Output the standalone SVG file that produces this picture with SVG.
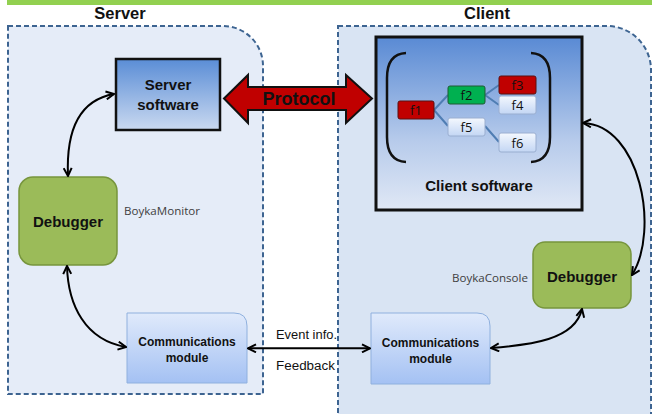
<svg xmlns="http://www.w3.org/2000/svg" width="652" height="414" viewBox="0 0 652 414">
<style>
.region{stroke:#3d6491;stroke-width:2;stroke-dasharray:5,3}
.head{font-family:"Liberation Sans",Arial,sans-serif;font-weight:bold;font-size:16.5px;fill:#111;text-anchor:middle}
.bold{font-family:"Liberation Sans",Arial,sans-serif;font-weight:bold;fill:#111;text-anchor:middle}
.note{font-family:"Open Sans","Liberation Sans",sans-serif;font-size:11.5px;fill:#404040}
.lbl{font-family:"Liberation Sans",Arial,sans-serif;font-size:12.5px;fill:#111}
.fbox{stroke-width:1}
.ftxt{font-family:"Open Sans","Liberation Sans",sans-serif;font-size:13px;fill:#111;text-anchor:middle}
.tree{stroke:#4f7db3;stroke-width:2;fill:none}
.conn{fill:none;stroke:#000;stroke-width:2;marker-start:url(#ah);marker-end:url(#ah)}
.debug{fill:#9bbb59;stroke:#77953d;stroke-width:1.5}
.comm{fill:url(#gComm);stroke:#8fb0de;stroke-width:1}
</style>
<defs>
<linearGradient id="gServ" x1="0" y1="0" x2="0" y2="1"><stop offset="0" stop-color="#5a8dd6"/><stop offset="1" stop-color="#cad9f0"/></linearGradient>
<linearGradient id="gCli" x1="0" y1="0" x2="0" y2="1"><stop offset="0" stop-color="#598ad4"/><stop offset="0.6" stop-color="#b7cbeb"/><stop offset="1" stop-color="#e0e8f5"/></linearGradient>
<linearGradient id="gComm" x1="0" y1="0" x2="0" y2="1"><stop offset="0" stop-color="#e0eafb"/><stop offset="1" stop-color="#a4c1f3"/></linearGradient>
<linearGradient id="gF" x1="0" y1="0" x2="0" y2="1"><stop offset="0" stop-color="#f4f8fe"/><stop offset="1" stop-color="#c3d6f4"/></linearGradient>
<marker id="ah" viewBox="0 0 10 10" refX="9" refY="5" markerWidth="5" markerHeight="5" orient="auto-start-reverse" markerUnits="strokeWidth">
<path d="M1,1 L9,5 L1,9" fill="none" stroke="#000" stroke-width="2"/>
</marker>
</defs>
<rect width="652" height="414" fill="#fff"/>
<rect x="7" y="0" width="645" height="5" fill="#92d050"/>

<g id="server-region">
<path class="region" d="M8,26 H223 A40,40 0 0 1 263,66 V394 H8 Z" fill="#e5ecf8"/>
<text class="head" x="120" y="19">Server</text>
</g>
<g id="client-region">
<path class="region" d="M338,26 H607 A44,44 0 0 1 651,70 V420 H338 Z" fill="#d9e4f3"/>
<text class="head" x="487" y="19">Client</text>
</g>

<g id="server-software">
<rect x="116" y="59" width="104" height="71" fill="url(#gServ)" stroke="#111" stroke-width="2.5"/>
<text class="bold" font-size="15" x="168" y="90">Server</text>
<text class="bold" font-size="15" x="168" y="110">software</text>
</g>

<g id="client-software">
<rect x="376" y="37" width="206" height="173" fill="url(#gCli)" stroke="#111" stroke-width="3"/>
<path d="M406,53 Q387,54 387,78 V137 Q387,161 406,162" fill="none" stroke="#111" stroke-width="2.5"/>
<path d="M531,53 Q550,54 550,78 V137 Q550,161 531,162" fill="none" stroke="#111" stroke-width="2.5"/>
<g id="tree-lines">
<path class="tree" d="M434,110 L448,95 M434,110 L448,126 M485,95 L499,85 M485,95 L499,105 M485,126 L499,142"/>
</g>
<g id="f1"><rect class="fbox" x="398" y="101" width="36" height="18" rx="2" fill="#c00000" stroke="#5a1010"/><text class="ftxt" x="416" y="115">f1</text></g>
<g id="f2"><rect class="fbox" x="448" y="86" width="37" height="18" rx="2" fill="#00b050" stroke="#1f5a33"/><text class="ftxt" x="466.5" y="100">f2</text></g>
<g id="f3"><rect class="fbox" x="499" y="76" width="37" height="18" rx="2" fill="#c00000" stroke="#5a1010"/><text class="ftxt" x="517.5" y="90">f3</text></g>
<g id="f4"><rect class="fbox" x="499" y="96" width="37" height="18" rx="2" fill="url(#gF)" stroke="#9aaed0"/><text class="ftxt" x="517.5" y="110">f4</text></g>
<g id="f5"><rect class="fbox" x="448" y="118" width="37" height="18" rx="2" fill="url(#gF)" stroke="#9aaed0"/><text class="ftxt" x="466.5" y="132">f5</text></g>
<g id="f6"><rect class="fbox" x="499" y="133" width="37" height="19" rx="2" fill="url(#gF)" stroke="#9aaed0"/><text class="ftxt" x="517.5" y="147.5">f6</text></g>
<text class="bold" font-size="15" x="479" y="191">Client software</text>
</g>

<g id="debugger-server">
<rect class="debug" x="19" y="177" width="98" height="88" rx="14"/>
<text class="bold" font-size="15" x="68" y="227">Debugger</text>
<text class="note" x="124" y="215" textLength="76" lengthAdjust="spacingAndGlyphs">BoykaMonitor</text>
</g>

<g id="debugger-client">
<rect class="debug" x="533" y="242" width="98" height="66" rx="12"/>
<text class="bold" font-size="15" x="582" y="282">Debugger</text>
<text class="note" x="452" y="282" textLength="76" lengthAdjust="spacingAndGlyphs">BoykaConsole</text>
</g>

<g id="comm-server">
<path class="comm" d="M127,313 H234 Q247,313 247,326 V383 H127 Z"/>
<text class="bold" font-size="12" x="187" y="346">Communications</text>
<text class="bold" font-size="12" x="187" y="362">module</text>
</g>

<g id="comm-client">
<path class="comm" d="M371,313 H477 Q490,313 490,326 V384 H371 Z"/>
<text class="bold" font-size="12" x="430.5" y="347">Communications</text>
<text class="bold" font-size="12" x="430.5" y="363">module</text>
</g>

<g id="protocol">
<path d="M224,98.5 L248,75 V87 H346 V75 L372,98.5 L346,123 V110 H248 V123 Z" fill="#c00000" stroke="#111" stroke-width="2" stroke-linejoin="miter"/>
<text class="bold" font-size="18" x="299" y="105">Protocol</text>
</g>

<g id="connectors">
<path class="conn" d="M68,176 C66,130 80,100 114,94"/>
<path class="conn" d="M67,266 C68,305 85,340 126,347"/>
<path class="conn" d="M583,123 C640,125 660,230 632,275"/>
<path class="conn" d="M491,348 C530,345 575,340 582,309"/>
<path class="conn" d="M248,348.3 H370"/>
<text class="lbl" x="276" y="339" textLength="61" lengthAdjust="spacingAndGlyphs">Event info.</text>
<text class="lbl" x="276" y="370" textLength="59" lengthAdjust="spacingAndGlyphs">Feedback</text>
</g>
</svg>
